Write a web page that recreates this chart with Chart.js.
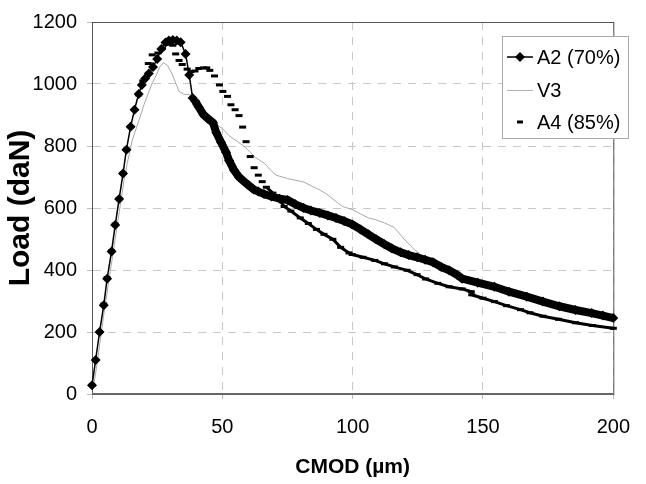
<!DOCTYPE html>
<html>
<head>
<meta charset="utf-8">
<script src="https://cdn.jsdelivr.net/npm/chart.js@4.4.1/dist/chart.umd.min.js"></script>
<style>
    html, body { margin: 0; padding: 0; background: #fff; }
    canvas { display: block; }
</style>
</head>
<body>
<canvas id="chart" width="646" height="484"></canvas>
<script>
const seriesLabels = ['A2 (70%)', 'V3', 'A4 (85%)'];

const xTicks = [0, 50, 100, 150, 200];
const yTicks = [0, 200, 400, 600, 800, 1000, 1200];

// A2 (70%) - CMOD (µm) / load (daN)
const a2X = [0, 1.4, 2.9, 4.5, 5.8, 7.5, 8.9, 10.4, 11.9, 13.2, 14.8, 16.3, 17.9, 19.1, 20.4, 21.8, 23.4, 25, 26.6, 28.2,
    29.5, 31, 32.5, 34, 35.9, 37.3, 38.6, 39.6, 41, 42.7, 44.5, 46.4, 47.7, 49.5, 51.4, 52.6, 54.5, 56.4, 58, 60,
    62, 63.8, 66, 68.8, 72, 75, 78, 81.2, 84, 87.4, 90.5, 93.6, 96.7, 99.8, 103, 106, 109, 112.2, 115, 118.4,
    121.5, 124.7, 127.8, 130.8, 134, 137, 140, 142, 148, 154.4, 160, 166.8, 173, 179.3, 185.5, 191.7, 196, 200];
const a2Y = [28, 110, 200, 286, 372, 460, 545, 629, 711, 788, 862, 917, 968, 997, 1018, 1034, 1055, 1081, 1113, 1134,
    1140, 1142, 1140, 1135, 1097, 1029, 955, 944, 925, 902, 888, 875, 843, 812, 780, 753, 722, 700, 688, 674,
    660, 653, 645, 637, 630, 626, 612, 600, 592, 584, 576, 568, 558, 547, 531, 515, 499, 483, 470, 457,
    448, 441, 433, 425, 410, 399, 385, 372, 359, 346, 330, 314, 298, 283, 271, 261, 253, 245];

// V3
const v3X = [0.5, 2, 3.5, 5.2, 7, 8.8, 10.5, 12.3, 13.5, 15.5, 17.9, 19.8, 21.6, 23.2, 24.7, 26, 27.4, 29, 30.9, 33.4,
    35.3, 37.7, 39.6, 41.5, 43.5, 45.2, 47.7, 50.2, 52.6, 55.7, 58.8, 62.6, 66.3, 68.5, 70.6, 75, 81.2, 84, 87.4, 90,
    93.6, 96.1, 99.8, 102.3, 106, 108.5, 112.2, 116, 119.7, 123.4, 126.5];
const v3Y = [20, 100, 195, 295, 395, 495, 590, 690, 743, 820, 880, 930, 970, 1005, 1029, 1055, 1069, 1060, 1029, 976,
    967, 965, 949, 935, 905, 886, 870, 855, 833, 815, 796, 764, 743, 722, 706, 695, 684, 672, 658, 645,
    621, 605, 595, 584, 568, 563, 552, 537, 500, 468, 447];

// A4 (85%)
const a4X = [0, 1.4, 2.9, 4.5, 5.8, 7.5, 8.9, 10.4, 11.9, 13.2, 14.8, 16.3, 17.9, 19.5, 21.6, 23.1, 25.3, 27, 28.5, 30,
    31, 32.1, 33.4, 34.6, 36.5, 38, 39.5, 41, 42.7, 44, 45.2, 47, 48.9, 50.2, 52, 53.3, 54.9, 56.4, 57.8, 59.1,
    60.7, 62.2, 63.8, 65.3, 66.9, 69.4, 72, 73.7, 76.3, 79.9, 83, 86.1, 89, 92.4, 95.4, 98.6, 99.8, 104, 108.5, 112.2,
    116, 120.9, 124.7, 128, 132.7, 137, 142, 145.5, 145.7, 150, 154.4, 159, 164.4, 168, 173, 179, 185.5, 192, 200];
const a4Y = [28, 110, 200, 290, 375, 462, 548, 630, 712, 790, 862, 917, 965, 1010, 1066, 1094, 1100, 1115, 1128, 1135,
    1125, 1097, 1076, 1063, 1048, 1040, 1042, 1050, 1052, 1052, 1044, 1026, 997, 976, 960, 933, 917, 898, 861, 814,
    766, 730, 706, 685, 667, 648, 625, 605, 590, 568, 550, 531, 515, 499, 473, 455, 450, 441, 431, 420,
    410, 399, 385, 371, 357, 346, 339, 330, 320, 309, 298, 285, 272, 262, 251, 241, 230, 221, 212];

const titleFamily = "'Liberation Sans', Arial, sans-serif";
const tickFont = { family: titleFamily, size: 20 };
const gridDash = [8, 7];

function toPoints(xs, ys) {
    return xs.map((x, i) => ({ x, y: ys[i] }));
}

const frame = {
    id: 'frame',
    beforeDatasetsDraw(chart) {
        const { ctx, chartArea } = chart;
        ctx.save();
        ctx.strokeStyle = '#555';
        ctx.lineWidth = 1;
        ctx.strokeRect(chartArea.left + 0.5, chartArea.top + 0.5, chartArea.right - chartArea.left, chartArea.bottom - chartArea.top);
        ctx.lineWidth = 2;
        ctx.strokeStyle = '#666';
        ctx.beginPath();
        ctx.moveTo(chartArea.left, chartArea.bottom);
        ctx.lineTo(chartArea.right, chartArea.bottom);
        ctx.stroke();
        ctx.restore();
    },
};

const boxLegend = {
    id: 'boxLegend',
    afterDraw(chart) {
        const { ctx } = chart;
        const left = 502;
        const top = 36;
        const rows = [57, 90, 122];
        ctx.save();
        ctx.fillStyle = '#fff';
        ctx.fillRect(left, top, 126, 102);
        ctx.strokeStyle = '#aaa';
        ctx.lineWidth = 1;
        ctx.strokeRect(left + 0.5, top + 0.5, 126, 102);

        // A2 sample
        ctx.strokeStyle = '#000';
        ctx.lineWidth = 1.5;
        ctx.beginPath();
        ctx.moveTo(507, rows[0]);
        ctx.lineTo(533, rows[0]);
        ctx.stroke();
        ctx.fillStyle = '#000';
        ctx.beginPath();
        ctx.moveTo(520, rows[0] - 5);
        ctx.lineTo(525, rows[0]);
        ctx.lineTo(520, rows[0] + 5);
        ctx.lineTo(515, rows[0]);
        ctx.closePath();
        ctx.fill();

        // V3 sample
        ctx.strokeStyle = '#b0b0b0';
        ctx.lineWidth = 1;
        ctx.beginPath();
        ctx.moveTo(507, rows[1] + 0.5);
        ctx.lineTo(533, rows[1] + 0.5);
        ctx.stroke();

        // A4 sample
        ctx.fillRect(517, rows[2] - 1.5, 6, 3);

        ctx.font = `20px ${titleFamily}`;
        ctx.textBaseline = 'middle';
        ctx.textAlign = 'left';
        ctx.fillStyle = '#000';
        seriesLabels.forEach((label, i) => ctx.fillText(label, 537, rows[i] + 1));
        ctx.restore();
    },
};

new Chart(document.getElementById('chart').getContext('2d'), {
    type: 'scatter',
    data: {
        datasets: [
            {
                label: seriesLabels[0],
                data: toPoints(a2X, a2Y),
                showLine: true,
                borderColor: '#000',
                backgroundColor: '#000',
                borderWidth: 1.5,
                pointStyle: 'rectRot',
                pointRadius: 5,
                pointBorderWidth: 0,
                clip: false,
                segment: {
                    borderWidth: (ctx) => (ctx.p0.parsed.x >= 39 ? 8 : 1.5),
                },
                order: 1,
            },
            {
                label: seriesLabels[1],
                data: toPoints(v3X, v3Y),
                showLine: true,
                borderColor: '#a8a8a8',
                borderWidth: 1,
                pointRadius: 0,
                clip: false,
                order: 3,
            },
            {
                label: seriesLabels[2],
                data: toPoints(a4X, a4Y),
                showLine: true,
                borderColor: '#000',
                backgroundColor: '#000',
                borderWidth: 3,
                pointStyle: 'line',
                pointRadius: 3.5,
                pointBorderWidth: 3,
                clip: false,
                segment: {
                    borderColor: (ctx) => (ctx.p0.parsed.x >= 66 ? '#000' : 'rgba(0,0,0,0)'),
                },
                order: 2,
            },
        ],
    },
    options: {
        responsive: false,
        animation: false,
        layout: {
            padding: { top: 16, right: 17, left: 0, bottom: 0 },
        },
        plugins: {
            legend: { display: false },
            tooltip: { enabled: false },
        },
        scales: {
            x: {
                type: 'linear',
                min: 0,
                max: 200,
                afterBuildTicks: (scale) => {
                    scale.ticks = xTicks.map((value) => ({ value }));
                },
                afterFit: (scale) => {
                    scale.height = 90;
                },
                grid: {
                    color: '#c8c8c8',
                    tickColor: '#bbb',
                    tickLength: 5,
                    borderDash: gridDash,
                },
                border: {
                    display: true,
                    color: 'rgba(0,0,0,0)',
                    dash: gridDash,
                },
                ticks: {
                    color: '#000',
                    font: tickFont,
                    padding: 16,
                    maxRotation: 0,
                    callback: (value) => String(value),
                },
                title: {
                    display: true,
                    text: 'CMOD (µm)',
                    color: '#000',
                    font: { family: titleFamily, size: 21, weight: 'bold' },
                    padding: { top: 0, bottom: 4 },
                },
            },
            y: {
                type: 'linear',
                min: 0,
                max: 1200,
                afterBuildTicks: (scale) => {
                    scale.ticks = yTicks.map((value) => ({ value }));
                },
                afterFit: (scale) => {
                    scale.width = 92;
                },
                grid: {
                    color: '#c8c8c8',
                    tickColor: '#bbb',
                    tickLength: 5,
                    borderDash: gridDash,
                },
                border: {
                    display: true,
                    color: 'rgba(0,0,0,0)',
                    dash: gridDash,
                },
                ticks: {
                    color: '#000',
                    font: tickFont,
                    padding: 10,
                    callback: (value) => String(value),
                },
                title: {
                    display: true,
                    text: 'Load (daN)',
                    color: '#000',
                    font: { family: titleFamily, size: 30, weight: 'bold' },
                    padding: { top: 3, bottom: 0 },
                },
            },
        },
    },
    plugins: [frame, boxLegend],
});
</script>
</body>
</html>
